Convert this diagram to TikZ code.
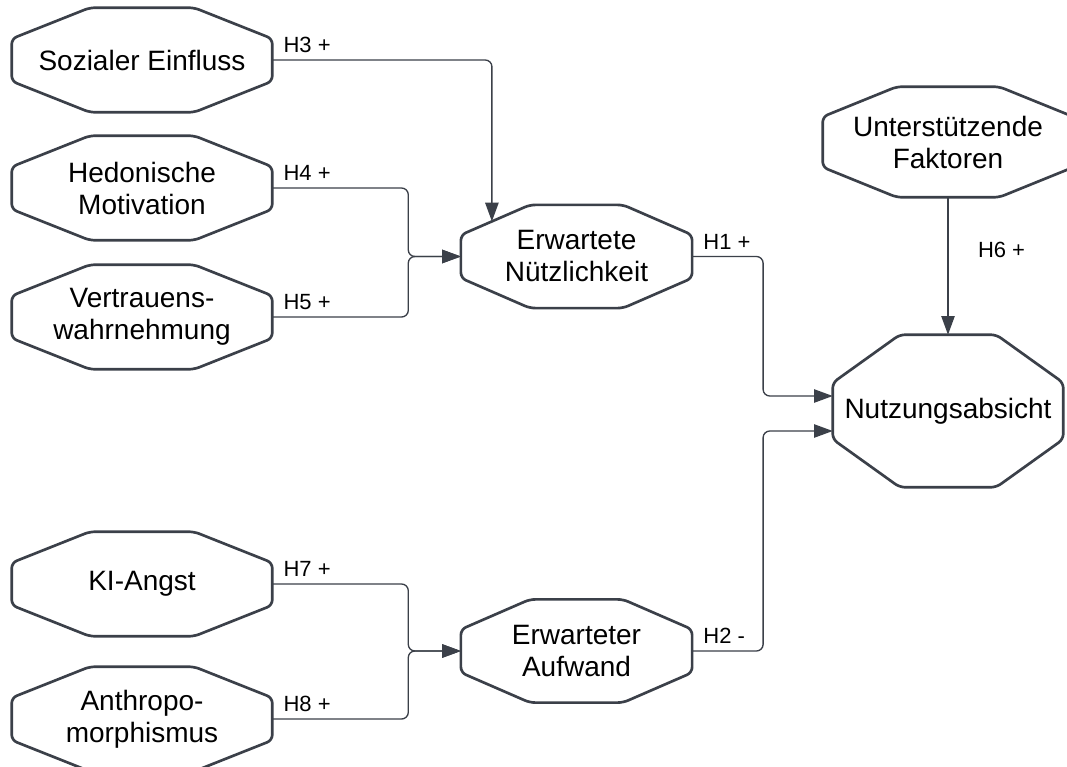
\documentclass[tikz,border=0pt]{standalone}
\usepackage{fontspec}
\setmainfont{Liberation Sans}
\usepackage{xcolor}
\usepackage{tikz}
\usetikzlibrary{arrows.meta,calc}
\definecolor{linegray}{HTML}{3B4049}
\tikzstyle{construct}=[rectangle,inner sep=0pt,align=center,font=\fontsize{21}{24}\selectfont]
\tikzstyle{factor}=[construct,minimum width=195pt,minimum height=78pt]
\tikzstyle{mediator}=[construct,minimum width=173pt,minimum height=77pt]
\tikzstyle{rim}=[draw=linegray,line width=2pt,rounded corners=4pt,line join=round]
\tikzstyle{link}=[draw=linegray,line width=1pt,rounded corners=5pt,-{Triangle[length=14pt,width=10pt]}]
\tikzstyle{hyp}=[inner sep=0pt,font=\fontsize{16.5}{19}\selectfont]
\tikzstyle{hypstart}=[hyp,anchor=base west,xshift=8pt,yshift=5.5pt]
% octagon outline round a node: name, chamfer x, chamfer y (px)
\newcommand{\octagonrim}[3]{%
  \draw[rim] ($(#1.north west)+(#2,0)$) -- ($(#1.north east)+(-#2,0)$)
    -- ($(#1.north east)+(0,#3)$) -- ($(#1.south east)+(0,-#3)$)
    -- ($(#1.south east)+(-#2,0)$) -- ($(#1.south west)+(#2,0)$)
    -- ($(#1.south west)+(0,-#3)$) -- ($(#1.north west)+(0,#3)$) -- cycle;}

\begin{document}
\begin{tikzpicture}[x=0.75pt,y=-0.75pt]
        \useasboundingbox[fill=white] (0,0) rectangle (1067,767);

        \node at (142,60)    [factor]   (se) {Sozialer Einfluss};
        \node at (142,188)   [factor]   (hm) {Hedonische\\Motivation};
        \node at (142,317)   [factor]   (vw) {Vertrauens-\\wahrnehmung};
        \node at (142,584)   [factor]   (ka) {KI-Angst};
        \node at (142,719)   [factor]   (am) {Anthropo-\\morphismus};
        \node at (576.5,256.5) [mediator] (en) {Erwartete\\Nützlichkeit};
        \node at (576.5,651) [mediator] (ea) {Erwarteter\\Aufwand};
        \node at (948,411)   [construct,minimum width=172.5pt,minimum height=114pt] (na) {Nutzungsabsicht};
        \node at (948,142)   [construct,minimum width=187.5pt,minimum height=82.5pt] (uf) {Unterstützende\\Faktoren};

        \octagonrim{se}{78}{31}
        \octagonrim{hm}{78}{31}
        \octagonrim{vw}{78}{31}
        \octagonrim{ka}{78}{31}
        \octagonrim{am}{78}{31}
        \octagonrim{en}{69}{30}
        \octagonrim{ea}{69}{30}
        \octagonrim{na}{67}{48}
        \octagonrim{uf}{74}{30}

        \coordinate (en-top) at ($(en.north west)+(31,16.5)$);
        \coordinate (na-in1) at ($(na.west)+(0,-15)$);
        \coordinate (na-in2) at ($(na.west)+(0,20)$);

        \draw [link] (se.east) node [hypstart] (h3) {H3 +} -| (en-top);
        \draw [link] (hm.east) node [hypstart] (h4) {H4 +} -- ++(136,0) |- (en.west);
        \draw [link] (vw.east) node [hypstart] (h5) {H5 +} -- ++(136,0) |- (en.west);
        \draw [link] (ka.east) node [hypstart] (h7) {H7 +} -- ++(136,0) |- (ea.west);
        \draw [link] (am.east) node [hypstart] (h8) {H8 +} -- ++(136,0) |- (ea.west);
        \draw [link] (en.east) node [hypstart] (h1) {H1 +} -- ++(71,0) |- (na-in1);
        \draw [link] (ea.east) node [hypstart] (h2) {H2 -} -- ++(71,0) |- (na-in2);
        \draw [link] (uf.south) -- node [hyp,anchor=base west,pos=0.435,xshift=22pt] (h6) {H6 +} (na.north);
      \end{tikzpicture}
\end{document}
